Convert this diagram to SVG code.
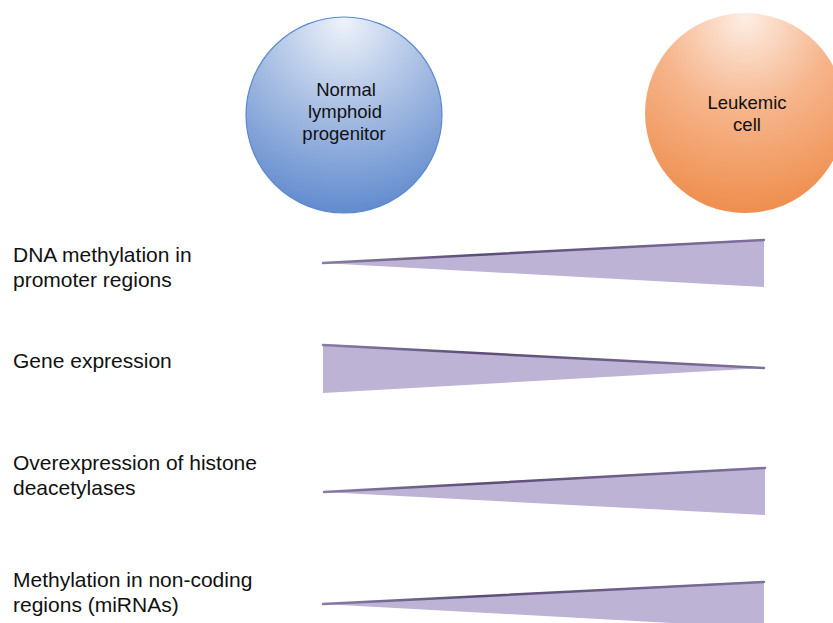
<svg xmlns="http://www.w3.org/2000/svg" width="833" height="623" viewBox="0 0 833 623">
<style>
.lbl{font-family:"Liberation Sans",Arial,sans-serif;font-size:21px;fill:#111}
.cl{font-family:"Liberation Sans",Arial,sans-serif;font-size:18.5px;fill:#111;text-anchor:middle}
.wedge{fill:#bdb3d5}
.edge{stroke:url(#edgeG);stroke-width:2.5;fill:none;stroke-linecap:round}
</style>
<defs>
<radialGradient id="blueG" cx="0.5" cy="0.1" r="0.95" fx="0.5" fy="0.02">
<stop offset="0" stop-color="#eef2fa"/>
<stop offset="0.45" stop-color="#a9bfe3"/>
<stop offset="1" stop-color="#5b86cc"/>
</radialGradient>
<radialGradient id="orangeG" cx="0.5" cy="0.1" r="0.95" fx="0.5" fy="0.02">
<stop offset="0" stop-color="#fdeee4"/>
<stop offset="0.45" stop-color="#f6b58c"/>
<stop offset="1" stop-color="#ee8a48"/>
</radialGradient>
<linearGradient id="edgeG" x1="0" y1="0" x2="1" y2="0">
<stop offset="0" stop-color="#8a7ca6"/>
<stop offset="0.35" stop-color="#5c4d76"/>
<stop offset="1" stop-color="#7f719c"/>
</linearGradient>
</defs>
<g id="normal">
<circle cx="344" cy="115" r="98" fill="url(#blueG)" stroke="#5a89d0" stroke-width="1.2"/>
<text class="cl" x="346" y="96">Normal</text>
<text class="cl" x="345" y="118">lymphoid</text>
<text class="cl" x="344" y="140">progenitor</text>
</g>
<g id="leukemic">
<circle cx="745" cy="113" r="100" fill="url(#orangeG)"/>
<text class="cl" x="747" y="109">Leukemic</text>
<text class="cl" x="747" y="131">cell</text>
</g>
<g id="row1">
<text class="lbl" x="13" y="262">DNA methylation in</text>
<text class="lbl" x="13" y="287">promoter regions</text>
<polygon class="wedge" points="322,263 764,239 764,287"/>
<line class="edge" x1="323" y1="263" x2="764" y2="240"/>
</g>
<g id="row2">
<text class="lbl" x="13" y="368">Gene expression</text>
<polygon class="wedge" points="323,344 765,368 323,393"/>
<line class="edge" x1="323" y1="345" x2="764" y2="368"/>
</g>
<g id="row3">
<text class="lbl" x="13" y="470">Overexpression of histone</text>
<text class="lbl" x="13" y="495">deacetylases</text>
<polygon class="wedge" points="323,492 765,467 765,515"/>
<line class="edge" x1="324" y1="492" x2="765" y2="468"/>
</g>
<g id="row4">
<text class="lbl" x="13" y="587">Methylation in non-coding</text>
<text class="lbl" x="13" y="612">regions (miRNAs)</text>
<polygon class="wedge" points="322,604 764,581 764,628"/>
<line class="edge" x1="323" y1="604" x2="764" y2="582"/>
</g>
<g id="connectors"></g>
</svg>
